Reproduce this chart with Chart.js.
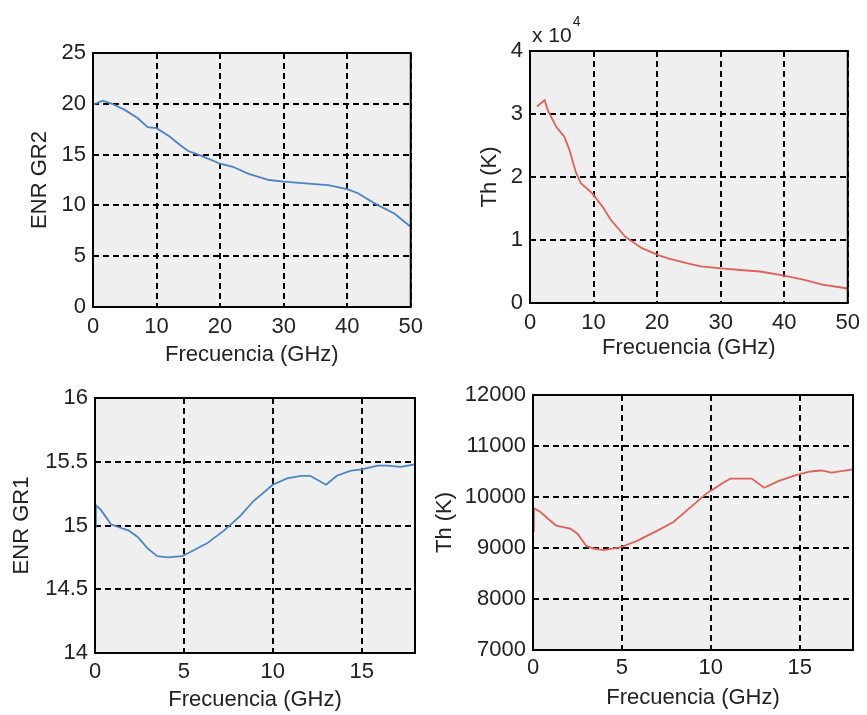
<!DOCTYPE html>
<html>
<head>
<meta charset="utf-8">
<script src="https://cdn.jsdelivr.net/npm/chart.js@4"></script>
<style>
  body { margin:0; background:#fff; }
  .box { position:absolute; }
</style>
</head>
<body>
<div class="box" style="left:0px;top:0px"><canvas id="enrGr2" width="430" height="370"></canvas></div>
<div class="box" style="left:430px;top:0px"><canvas id="thHigh" width="437" height="370"></canvas></div>
<div class="box" style="left:0px;top:370px"><canvas id="enrGr1" width="430" height="345"></canvas></div>
<div class="box" style="left:430px;top:370px"><canvas id="thLow" width="437" height="345"></canvas></div>
<script>
// ENR GR2, 0-50 GHz
const enrGr2Freq = [0, 1.5, 3, 5, 7, 8.6, 10, 12, 14, 15, 17, 20, 22, 24.5, 27.7, 30, 32.9, 37, 40, 41.7, 44.3, 47.4, 50]
const enrGr2Values = [19.9, 20.3, 20.0, 19.4, 18.6, 17.7, 17.6, 16.8, 15.8, 15.35, 14.9, 14.1, 13.8, 13.1, 12.5, 12.35, 12.2, 12.0, 11.6, 11.2, 10.2, 9.2, 7.9]

// Th (K), 0-50 GHz
const thHighFreq = [1.1, 2.3, 2.8, 4.1, 5.4, 6.2, 7.2, 8.0, 9.8, 11.4, 12.7, 15.0, 17.6, 20.2, 21.7, 24.8, 26.9, 30, 33.6, 36.2, 39.8, 43, 46, 50]
const thHighValues = [31200, 32200, 30600, 28000, 26400, 24300, 20800, 19000, 17400, 15300, 13200, 10500, 8700, 7600, 7100, 6300, 5800, 5500, 5200, 5000, 4400, 3700, 2900, 2300]

// ENR GR1, 0-18 GHz
const enrGr1Freq = [0, 0.05, 0.34, 0.9, 1.27, 1.9, 2.4, 2.96, 3.5, 4.1, 4.9, 5.2, 6.3, 7.25, 8.2, 8.9, 10, 10.8, 11.6, 12.1, 13.0, 13.6, 14.4, 15.0, 15.9, 16.4, 17.2, 18]
const enrGr1Values = [14.99, 15.16, 15.12, 15.01, 14.99, 14.96, 14.91, 14.82, 14.76, 14.75, 14.76, 14.78, 14.86, 14.96, 15.08, 15.19, 15.32, 15.37, 15.39, 15.39, 15.32, 15.39, 15.43, 15.44, 15.47, 15.47, 15.46, 15.48]

// Th (K), 0-18 GHz
const thLowFreq = [0, 0.05, 0.4, 0.96, 1.3, 2.1, 2.5, 3.0, 3.4, 3.95, 4.9, 5.85, 7.0, 7.9, 8.9, 9.8, 10.7, 11.1, 12.3, 13.0, 13.8, 14.7, 15.6, 16.2, 16.8, 18]
const thLowValues = [9340, 9780, 9710, 9540, 9440, 9380, 9280, 9040, 8990, 8960, 9010, 9140, 9340, 9510, 9810, 10080, 10280, 10360, 10360, 10180, 10310, 10420, 10500, 10520, 10480, 10540]

const xTitle = 'Frecuencia (GHz)'
const fontFam = '"Liberation Sans", Arial, sans-serif'
const textCol = '#222'

// grey plot background + black frame like matlab
const framePlugin = {
  id: 'frame',
  beforeDraw(chart) {
    const a = chart.chartArea, ctx = chart.ctx
    ctx.save()
    ctx.fillStyle = '#efefef'
    ctx.fillRect(a.left, a.top, a.right - a.left, a.bottom - a.top)
    ctx.restore()
  },
  afterDraw(chart) {
    const a = chart.chartArea, ctx = chart.ctx
    ctx.save()
    ctx.strokeStyle = '#000'
    ctx.lineWidth = 2
    ctx.strokeRect(a.left, a.top, a.right - a.left, a.bottom - a.top)
    const exp = chart.options.plugins.frame.exponent
    if (exp) {
      ctx.fillStyle = textCol
      ctx.textBaseline = 'alphabetic'
      ctx.font = '21px ' + fontFam
      ctx.fillText('x 10', a.left + 2, a.top - 9)
      let w = ctx.measureText('x 10').width
      ctx.font = '14px ' + fontFam
      ctx.fillText(exp, a.left + 2 + w + 1, a.top - 25)
    }
    ctx.restore()
  }
}

function makeChart(id, freq, vals, color, c) {
  let pts = freq.map((f, i) => ({x: f, y: vals[i]}))
  return new Chart(id, {
    type: 'line',
    data: { datasets: [{ data: pts, borderColor: color, borderWidth: 1.8, pointRadius: 0, tension: 0, fill: false }] },
    options: {
      responsive: false,
      animation: false,
      layout: { padding: { top: c.top, right: c.right, left: 0, bottom: 0 } },
      plugins: { legend: { display: false }, tooltip: { enabled: false }, frame: { exponent: c.exponent } },
      scales: {
        x: {
          type: 'linear', min: c.xMin, max: c.xMax,
          afterFit: s => { s.height = c.xH },
          ticks: { stepSize: c.xStep, includeBounds: false, color: textCol, padding: c.xTickPad, maxRotation: 0,
                   font: { family: fontFam, size: 22 } },
          grid: { color: '#000', lineWidth: 2, drawTicks: false },
          border: { display: false, dash: [6, 4] },
          title: { display: true, text: xTitle, color: textCol, font: { family: fontFam, size: 22 },
                   padding: { top: 0, bottom: c.xTitlePad } }
        },
        y: {
          min: c.yMin, max: c.yMax,
          afterFit: s => { s.width = c.yW },
          ticks: { stepSize: c.yStep, includeBounds: false, color: textCol, padding: 7,
                   font: { family: fontFam, size: 22 },
                   callback: v => String(c.yDiv ? v / c.yDiv : v) },
          grid: { color: '#000', lineWidth: 2, drawTicks: false },
          border: { display: false, dash: [6, 4] },
          title: { display: true, text: c.yTitle, color: textCol, font: { family: fontFam, size: 22 },
                   padding: { top: c.yTitlePad, bottom: 0 } }
        }
      }
    },
    plugins: [framePlugin]
  })
}

makeChart('enrGr2', enrGr2Freq, enrGr2Values, '#4a84c4', {
  top: 53, right: 17, xH: 63, yW: 93, xMin: 0, xMax: 50, xStep: 10, yMin: 0, yMax: 25, yStep: 5,
  xTickPad: 7, xTitlePad: 2, yTitle: 'ENR GR2', yTitlePad: 27
})
makeChart('thHigh', thHighFreq, thHighValues, '#e0605a', {
  top: 51, right: 15, xH: 67, yW: 100, xMin: 0, xMax: 50, xStep: 10, yMin: 0, yMax: 40000, yStep: 10000,
  yDiv: 10000, exponent: '4', xTickPad: 7, xTitlePad: 9, yTitle: 'Th (K)', yTitlePad: 47
})
makeChart('enrGr1', enrGr1Freq, enrGr1Values, '#4a84c4', {
  top: 28, right: 15, xH: 62, yW: 95, xMin: 0, xMax: 18, xStep: 5, yMin: 14, yMax: 16, yStep: 0.5,
  xTickPad: 6, xTitlePad: 2, yTitle: 'ENR GR1', yTitlePad: 9
})
makeChart('thLow', thLowFreq, thLowValues, '#e0605a', {
  top: 25, right: 14, xH: 65, yW: 103, xMin: 0, xMax: 18, xStep: 5, yMin: 7000, yMax: 12000, yStep: 1000,
  xTickPad: 5, xTitlePad: 4, yTitle: 'Th (K)', yTitlePad: 2
})
</script>
</body>
</html>
